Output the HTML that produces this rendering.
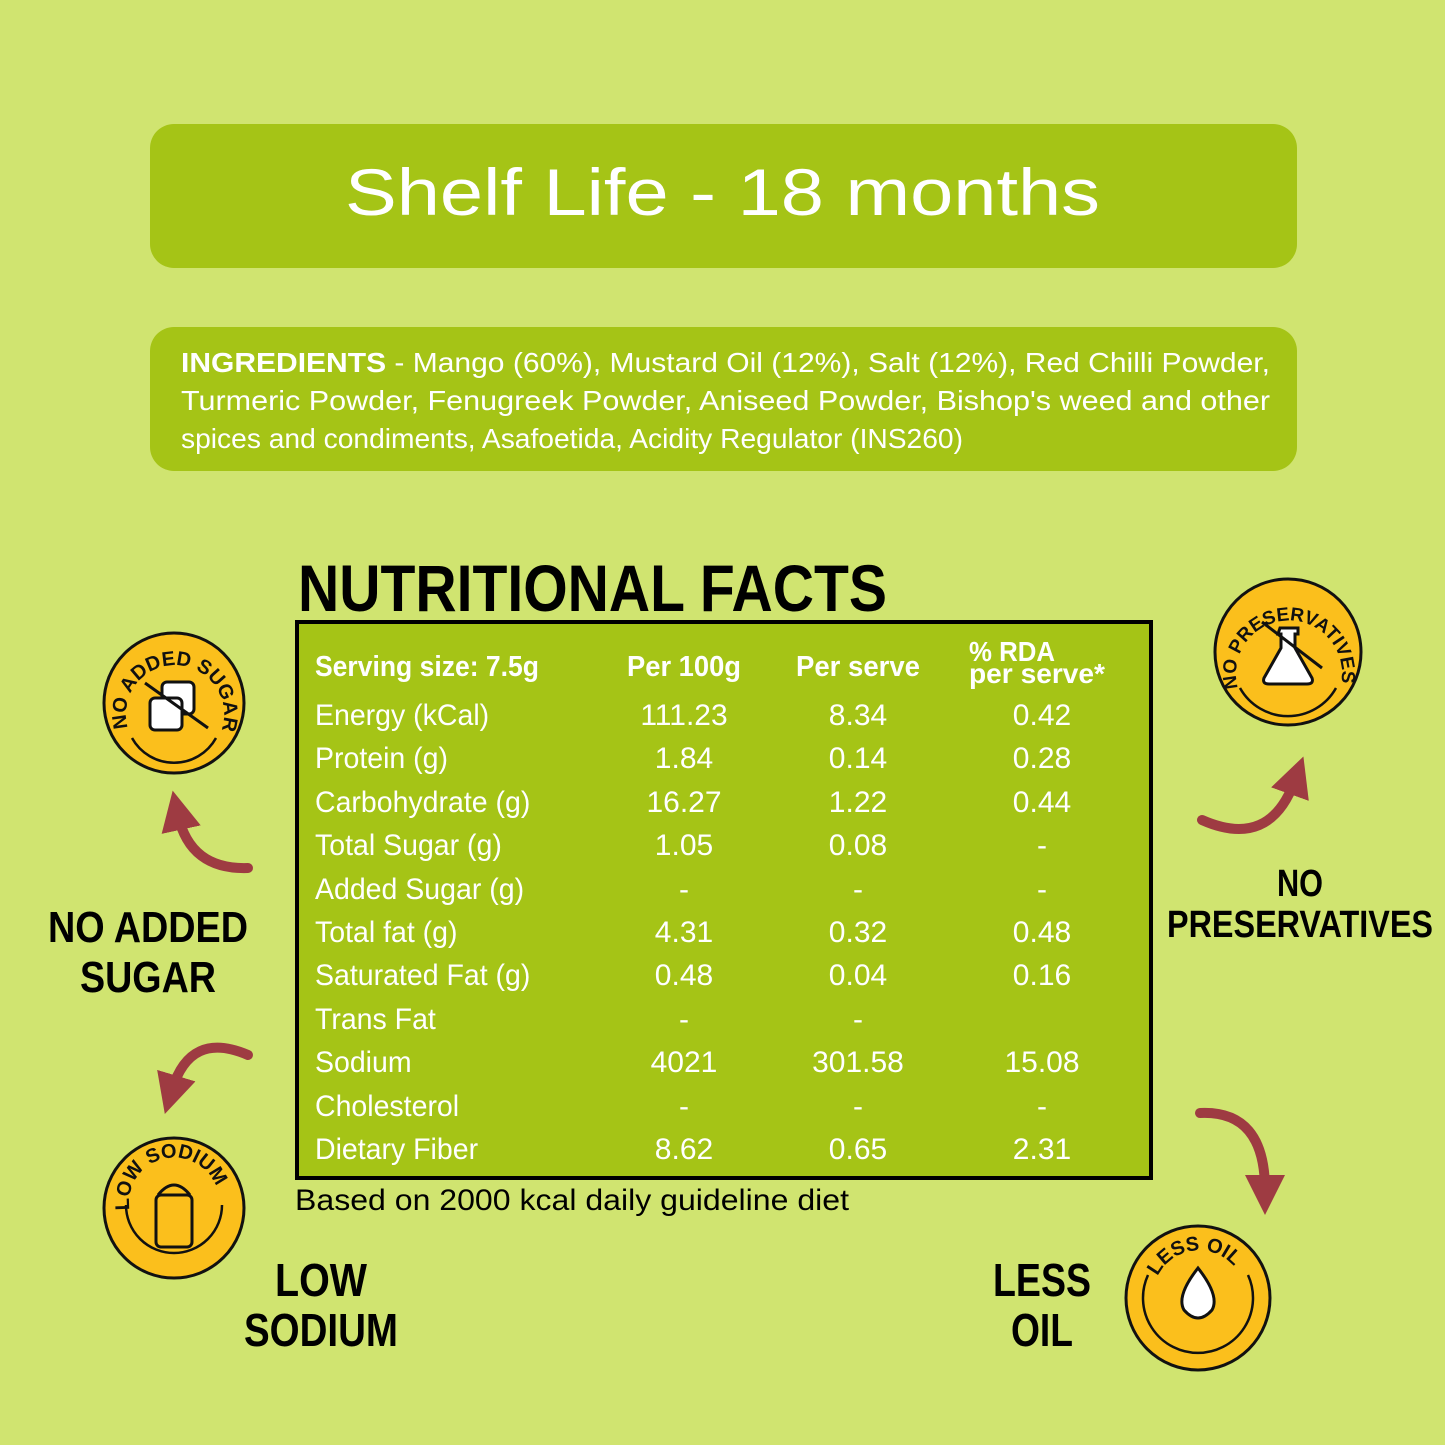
<!DOCTYPE html>
<html><head><meta charset="utf-8"><style>
html,body{margin:0;padding:0;background:#d0e470;}
svg{display:block}
text{font-family:"Liberation Sans",sans-serif;}
</style></head><body>
<svg width="1445" height="1445" viewBox="0 0 1445 1445" xmlns="http://www.w3.org/2000/svg">
<rect width="1445" height="1445" fill="#d0e470"/>
<defs>
<marker id="ah" markerWidth="4" markerHeight="4" refX="1.5" refY="2" orient="auto"><path d="M0,0 L4,2 L0,4 Z" fill="#9e3b42"/></marker>
</defs>
<rect x="150" y="124" width="1147" height="144" rx="24" fill="#a5c416"/>
<text x="345" y="215" fill="#fff" font-size="66" textLength="755" lengthAdjust="spacingAndGlyphs">Shelf Life - 18 months</text>
<rect x="150" y="327" width="1147" height="144" rx="24" fill="#a5c416"/>
<g fill="#fff" font-size="28">
<text x="181" y="372" textLength="1089" lengthAdjust="spacingAndGlyphs"><tspan font-weight="bold">INGREDIENTS</tspan> - Mango (60%), Mustard Oil (12%), Salt (12%), Red Chilli Powder,</text>
<text x="181" y="410" textLength="1089" lengthAdjust="spacingAndGlyphs">Turmeric Powder, Fenugreek Powder, Aniseed Powder, Bishop's weed and other</text>
<text x="181" y="448" textLength="782" lengthAdjust="spacingAndGlyphs">spices and condiments, Asafoetida, Acidity Regulator (INS260)</text>
</g>
<text x="298" y="611" font-size="66" font-weight="bold" fill="#000" textLength="589" lengthAdjust="spacingAndGlyphs">NUTRITIONAL FACTS</text>
<rect x="297" y="622" width="854" height="556" fill="#a5c416" stroke="#000" stroke-width="4"/>
<g fill="#fff" font-size="29">
<text x="315" y="676" font-weight="bold" textLength="224" lengthAdjust="spacingAndGlyphs">Serving size: 7.5g</text>
<text x="684" y="676" font-weight="bold" text-anchor="middle" textLength="114" lengthAdjust="spacingAndGlyphs">Per 100g</text>
<text x="858" y="676" font-weight="bold" text-anchor="middle" textLength="124" lengthAdjust="spacingAndGlyphs">Per serve</text>
<text x="969" y="661" font-weight="bold" font-size="28" textLength="86" lengthAdjust="spacingAndGlyphs">% RDA</text>
<text x="969" y="683" font-weight="bold" font-size="28" textLength="136" lengthAdjust="spacingAndGlyphs">per serve*</text>
</g>
<g fill="#fff" font-size="30" transform="translate(315 0) scale(0.95 1) translate(-315 0)">
<text x="315" y="725">Energy (kCal)</text>
<text x="315" y="768">Protein (g)</text>
<text x="315" y="812">Carbohydrate (g)</text>
<text x="315" y="855">Total Sugar (g)</text>
<text x="315" y="899">Added Sugar (g)</text>
<text x="315" y="942">Total fat (g)</text>
<text x="315" y="985">Saturated Fat (g)</text>
<text x="315" y="1029">Trans Fat</text>
<text x="315" y="1072">Sodium</text>
<text x="315" y="1116">Cholesterol</text>
<text x="315" y="1159">Dietary Fiber</text>
</g>
<g fill="#fff" font-size="30" text-anchor="middle">
<g><text x="684" y="725">111.23</text><text x="858" y="725">8.34</text><text x="1042" y="725">0.42</text></g>
<g><text x="684" y="768">1.84</text><text x="858" y="768">0.14</text><text x="1042" y="768">0.28</text></g>
<g><text x="684" y="812">16.27</text><text x="858" y="812">1.22</text><text x="1042" y="812">0.44</text></g>
<g><text x="684" y="855">1.05</text><text x="858" y="855">0.08</text><text x="1042" y="855">-</text></g>
<g><text x="684" y="899">-</text><text x="858" y="899">-</text><text x="1042" y="899">-</text></g>
<g><text x="684" y="942">4.31</text><text x="858" y="942">0.32</text><text x="1042" y="942">0.48</text></g>
<g><text x="684" y="985">0.48</text><text x="858" y="985">0.04</text><text x="1042" y="985">0.16</text></g>
<g><text x="684" y="1029">-</text><text x="858" y="1029">-</text></g>
<g><text x="684" y="1072">4021</text><text x="858" y="1072">301.58</text><text x="1042" y="1072">15.08</text></g>
<g><text x="684" y="1116">-</text><text x="858" y="1116">-</text><text x="1042" y="1116">-</text></g>
<g><text x="684" y="1159">8.62</text><text x="858" y="1159">0.65</text><text x="1042" y="1159">2.31</text></g>
</g>
<text x="295" y="1210" font-size="30" fill="#000" textLength="554" lengthAdjust="spacingAndGlyphs">Based on 2000 kcal daily guideline diet</text>

<!-- badges -->
<g stroke="#111" stroke-width="3" fill="#fbbf1c">
<circle cx="174" cy="703" r="70"/><circle cx="1288" cy="652" r="73"/>
<circle cx="174" cy="1208" r="70"/><circle cx="1198" cy="1298" r="72"/>
</g>
<g fill="none" stroke="#111" stroke-width="2.5">
<path d="M132,738 A48,48 0 0 0 216,738"/>
<path d="M1240,688 A55,55 0 0 0 1336,688"/>
<path d="M126,1205 A48,48 0 0 0 222,1205"/>
<path d="M1148,1275 A55,55 0 1 0 1248,1275"/>
</g>
<defs>
<path id="p1" d="M128,728 A49,49 0 1 1 222,728"/>
<path id="p2" d="M1238,688 A53,53 0 1 1 1340,688"/>
<path id="p3" d="M130,1212 A45,45 0 1 1 218,1212"/>
<path id="p4" d="M1156,1280 A46,46 0 0 1 1242,1280"/>
</defs>
<g font-size="20" font-weight="bold" fill="#111">
<text><textPath href="#p1">NO ADDED SUGAR</textPath></text>
<text font-size="19"><textPath href="#p2">NO PRESERVATIVES</textPath></text>
<text><textPath href="#p3" startOffset="2">LOW SODIUM</textPath></text>
<text><textPath href="#p4" startOffset="4">LESS OIL</textPath></text>
</g>
<g stroke="#111" stroke-width="3" fill="#fff">
<rect x="162" y="682" width="32" height="32" rx="5"/><rect x="150" y="698" width="32" height="32" rx="5"/>
<path d="M1280,628 h18 v6 h-3 v14 l17,30 q2,6 -5,6 h-38 q-7,0 -5,-6 l17,-30 v-14 h-3 z"/>
<path d="M1198,1268 q-22,28 -14,42 q14,16 28,0 q8,-14 -14,-42 z"/>
</g>
<g stroke="#111" stroke-width="3" fill="none">
<path d="M158,1195 q16,-20 32,0"/>
<rect x="156" y="1195" width="36" height="52" rx="5"/>
</g>
<line x1="145" y1="683" x2="208" y2="728" stroke="#111" stroke-width="3"/>
<line x1="1262" y1="622" x2="1322" y2="668" stroke="#111" stroke-width="3"/>

<!-- arrows -->
<g fill="none" stroke="#9e3b42" stroke-width="10" stroke-linecap="round" marker-end="url(#ah)">
<path d="M248,868 Q190,870 178,815"/>
<path d="M248,1055 Q190,1030 172,1090"/>
<path d="M1202,820 Q1270,850 1295,780"/>
<path d="M1200,1113 Q1265,1110 1265,1190"/>
</g>

<g font-weight="bold" fill="#000" text-anchor="middle">
<text x="148" y="942" font-size="44" textLength="200" lengthAdjust="spacingAndGlyphs">NO ADDED</text>
<text x="148" y="992" font-size="44" textLength="136" lengthAdjust="spacingAndGlyphs">SUGAR</text>
<text x="1300" y="896" font-size="38" textLength="46" lengthAdjust="spacingAndGlyphs">NO</text>
<text x="1300" y="937" font-size="38" textLength="266" lengthAdjust="spacingAndGlyphs">PRESERVATIVES</text>
<text x="321" y="1296" font-size="46" textLength="92" lengthAdjust="spacingAndGlyphs">LOW</text>
<text x="321" y="1346" font-size="46" textLength="154" lengthAdjust="spacingAndGlyphs">SODIUM</text>
<text x="1042" y="1296" font-size="46" textLength="98" lengthAdjust="spacingAndGlyphs">LESS</text>
<text x="1042" y="1346" font-size="46" textLength="62" lengthAdjust="spacingAndGlyphs">OIL</text>
</g>
</svg>
</body></html>
